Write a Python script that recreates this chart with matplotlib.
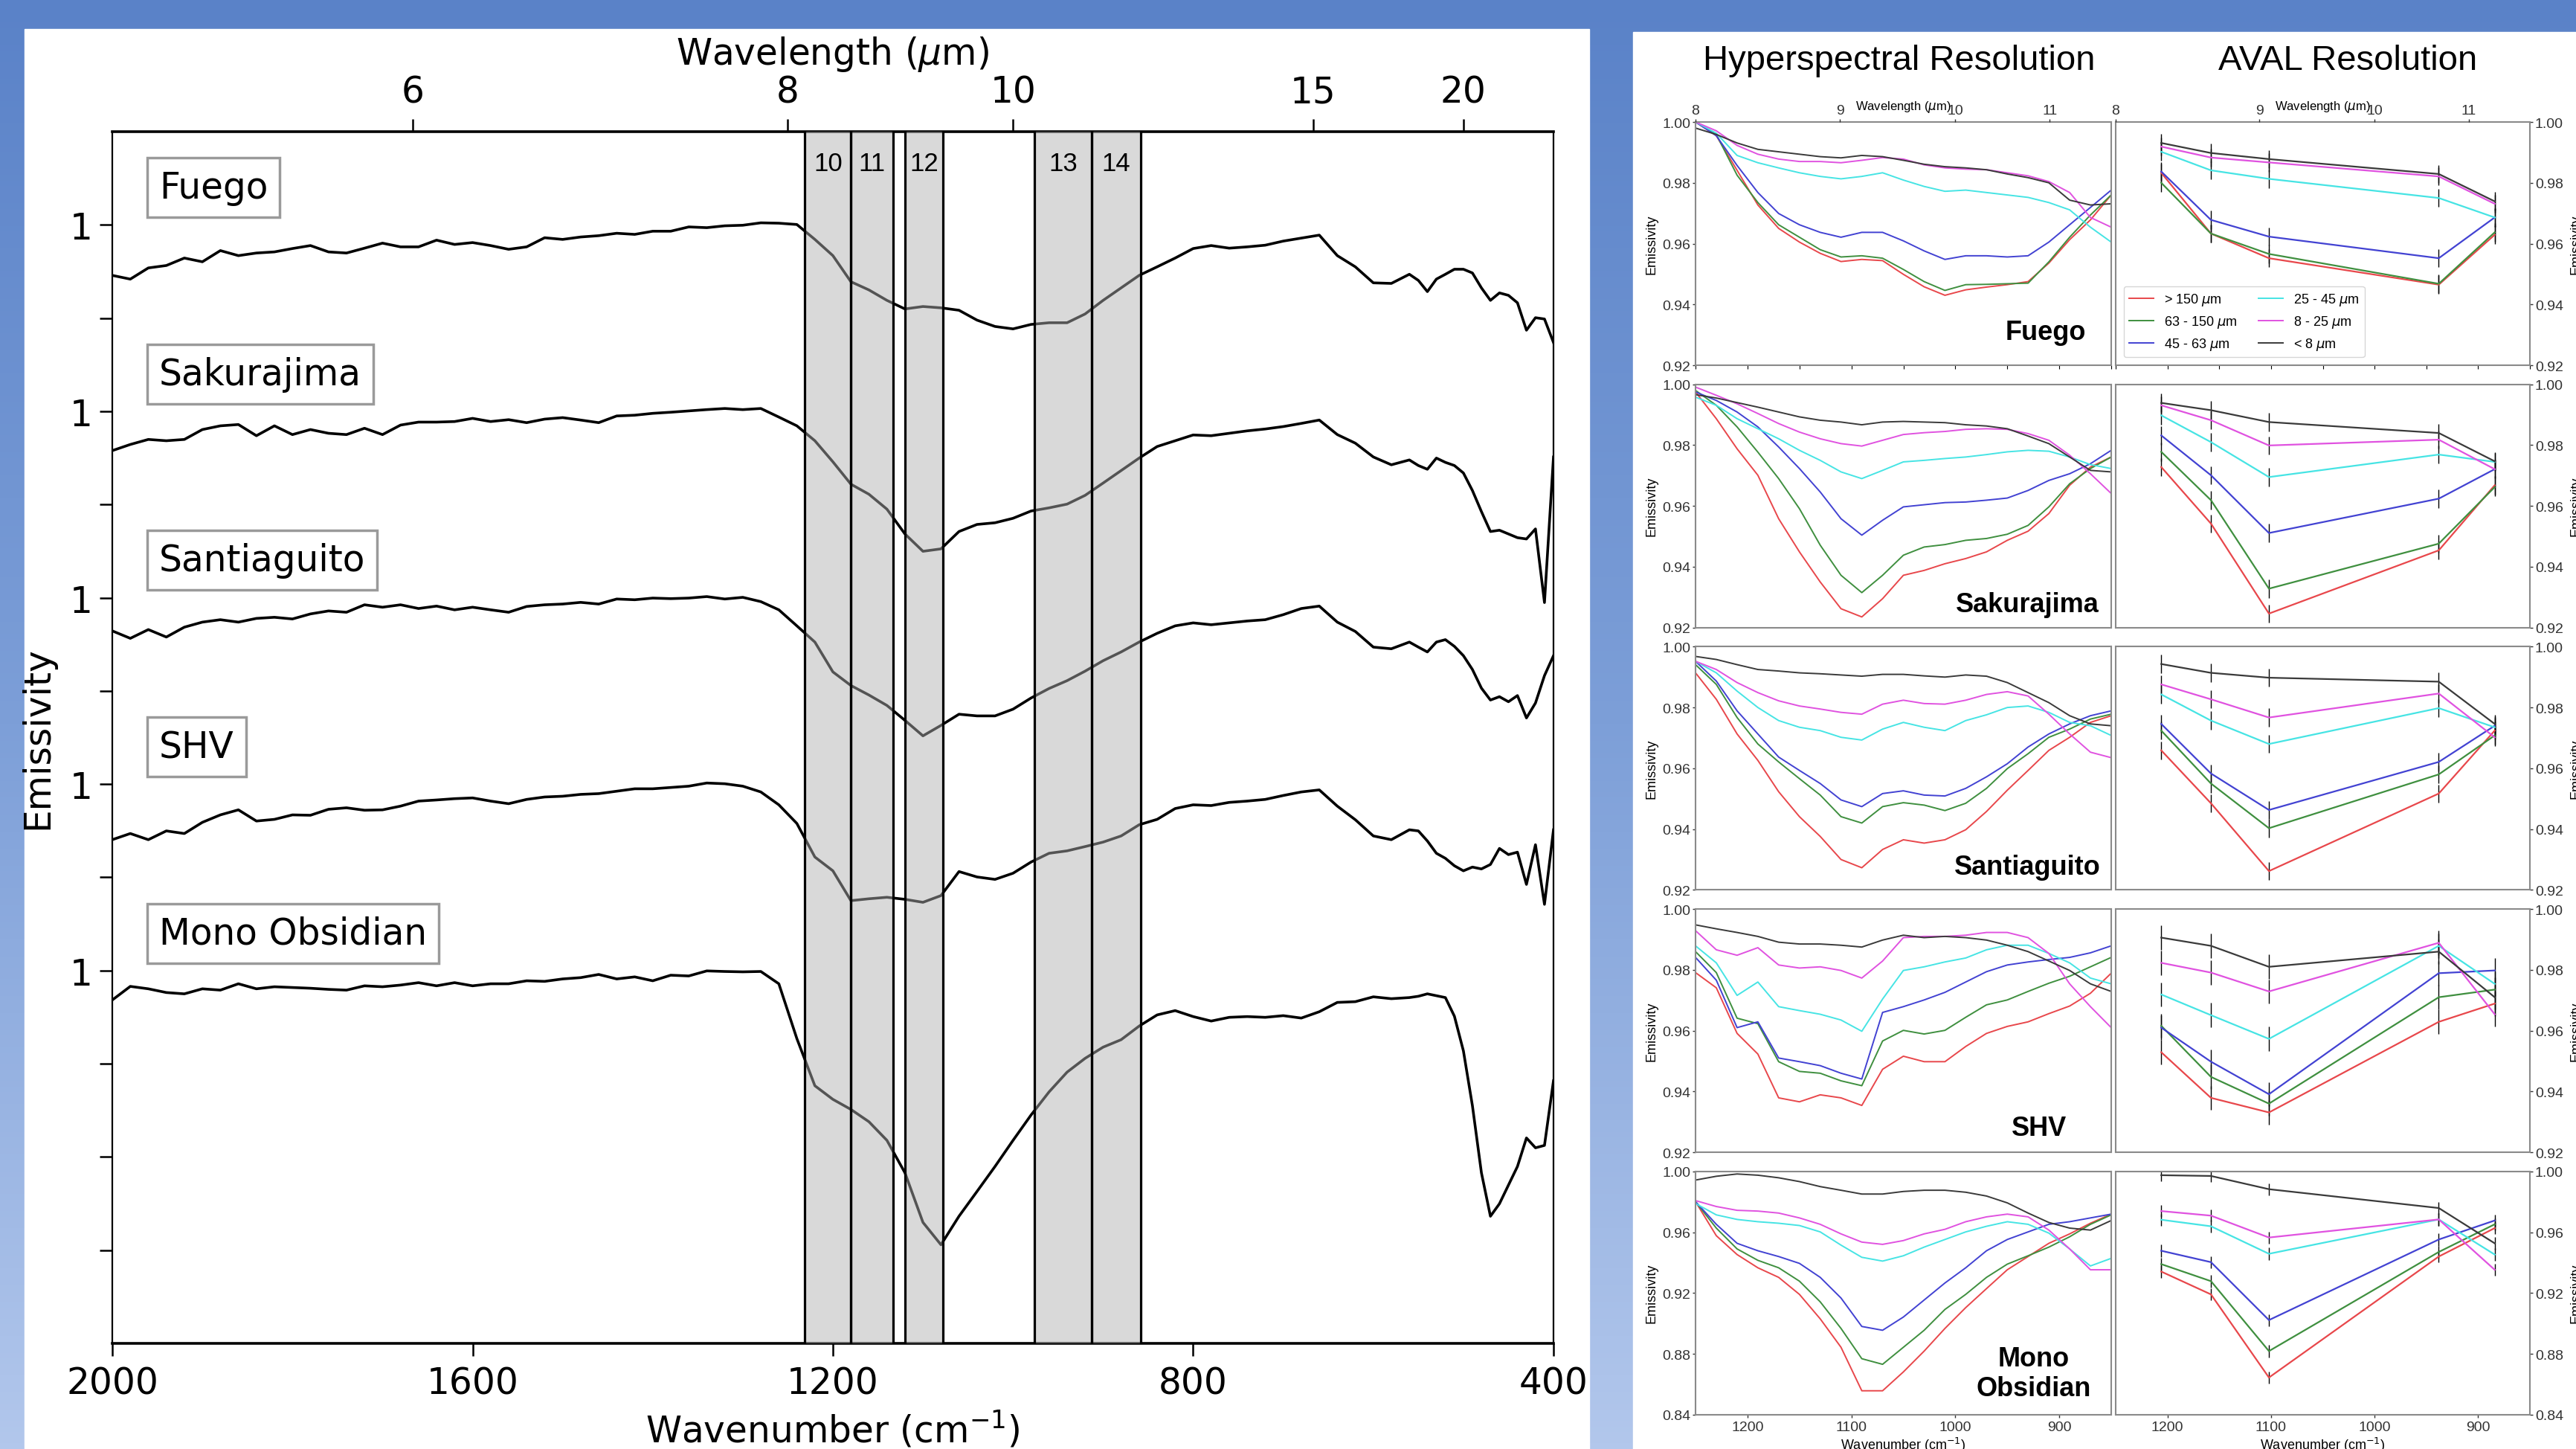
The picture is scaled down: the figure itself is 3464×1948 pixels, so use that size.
"""
Two-panel slide: stacked lab emissivity spectra of five volcanic samples with
ASTER TIR bands shaded (left), and particle-size emissivity at hyperspectral
vs AVAL resolution (right).  Saves out.png.
"""
import numpy as np
import matplotlib.pyplot as plt
from matplotlib.colors import LinearSegmentedColormap
from matplotlib.patches import Rectangle
import matplotlib.transforms as mtransforms

W, H = 3464, 1949

# ---------------- left panel: stacked spectra ----------------
WAVENUMBER = list(range(2000, 559, -20)) + list(range(550, 399, -10))

FUEGO = [0.9729, 0.9709, 0.9769, 0.9782, 0.9822, 0.9802, 0.9862, 0.9835, 0.9849, 0.9855,
         0.9873, 0.9889, 0.9855, 0.9849, 0.9875, 0.9902, 0.9882, 0.9882, 0.9918, 0.9895,
         0.9905, 0.9889, 0.9869, 0.9882, 0.9931, 0.9922, 0.9935, 0.9942, 0.9955, 0.9949,
         0.9966, 0.9966, 0.9989, 0.9985, 0.9995, 0.9998, 1.0011, 1.0009, 1.0002,
         0.9922, 0.9835, 0.9695, 0.9651, 0.9595, 0.9549, 0.9562, 0.9555, 0.9542, 0.9489,
         0.9455, 0.9442, 0.9466, 0.9475, 0.9475, 0.9522, 0.9595, 0.9662, 0.9729, 0.9775,
         0.9822, 0.9873, 0.9889, 0.9875, 0.9882, 0.9891, 0.9913, 0.9929, 0.9945, 0.9835,
         0.9775, 0.9689, 0.9686, 0.9735,
         0.9702, 0.9642, 0.9709, 0.9735, 0.9762, 0.9762, 0.9742, 0.9662, 0.9595, 0.9635,
         0.9622, 0.9582, 0.9435, 0.9502, 0.9495, 0.9369]
SAKURAJIMA = [0.9789, 0.9822, 0.9849, 0.9842, 0.9849, 0.9902, 0.9922, 0.9929, 0.9869, 0.9922,
              0.9875, 0.9902, 0.9882, 0.9875, 0.9909, 0.9875, 0.9926, 0.9942, 0.9942, 0.9945,
              0.9962, 0.9945, 0.9955, 0.9939, 0.9958, 0.9966, 0.9953, 0.9939, 0.9975, 0.9979,
              0.9989, 0.9995, 1.0002, 1.0009, 1.0015, 1.0009, 1.0015, 0.9969, 0.9922,
              0.9842, 0.9729, 0.9609, 0.9555, 0.9475, 0.9342, 0.9249, 0.9262, 0.9355, 0.9393,
              0.9402, 0.9426, 0.9465, 0.9482, 0.9502, 0.9549, 0.9615, 0.9682, 0.9749, 0.9811,
              0.9842, 0.9873, 0.9869, 0.9882, 0.9895, 0.9905, 0.9918, 0.9935, 0.9953, 0.9875,
              0.9829, 0.9755, 0.9713, 0.9739,
              0.9709, 0.9689, 0.9749, 0.9726, 0.9709, 0.9669, 0.9575, 0.9462, 0.9355, 0.9362,
              0.9342, 0.9322, 0.9315, 0.9369, 0.8974, 0.9755]
SANTIAGUITO = [0.9822, 0.9782, 0.9829, 0.9789, 0.9842, 0.9869, 0.9882, 0.9869, 0.9889, 0.9895,
               0.9886, 0.9913, 0.9929, 0.9922, 0.9962, 0.9949, 0.9962, 0.9942, 0.9955, 0.9935,
               0.9949, 0.9935, 0.9922, 0.9953, 0.9962, 0.9966, 0.9975, 0.9966, 0.9993, 0.9989,
               0.9998, 0.9995, 0.9998, 1.0006, 0.9993, 1.0002, 0.9979, 0.9935, 0.9849,
               0.9762, 0.9602, 0.9529, 0.9478, 0.9422, 0.9342, 0.9259, 0.9315, 0.9375, 0.9366,
               0.9366, 0.9402, 0.9462, 0.9513, 0.9555, 0.9606, 0.9662, 0.9709, 0.9762, 0.9809,
               0.9849, 0.9865, 0.9855, 0.9865, 0.9875, 0.9882, 0.9909, 0.9942, 0.9955, 0.9869,
               0.9819, 0.9735, 0.9726, 0.9762,
               0.9735, 0.9709, 0.9762, 0.9775, 0.9739, 0.9689, 0.9615, 0.9515, 0.9451, 0.9469,
               0.9442, 0.9475, 0.9355, 0.9435, 0.9582, 0.9689]
SHV = [0.9702, 0.9735, 0.9702, 0.9749, 0.9735, 0.9795, 0.9835, 0.9862, 0.9802, 0.9811,
       0.9835, 0.9833, 0.9865, 0.9873, 0.9860, 0.9862, 0.9882, 0.9909, 0.9915, 0.9922,
       0.9926, 0.9909, 0.9895, 0.9918, 0.9931, 0.9935, 0.9945, 0.9949, 0.9962, 0.9975,
       0.9975, 0.9982, 0.9989, 1.0006, 1.0002, 0.9989, 0.9958, 0.9889, 0.9789,
       0.9609, 0.9535, 0.9375, 0.9385, 0.9393, 0.9382, 0.9366, 0.9402, 0.9531, 0.9502,
       0.9489, 0.9522, 0.9582, 0.9629, 0.9642, 0.9665, 0.9689, 0.9722, 0.9782, 0.9811,
       0.9869, 0.9889, 0.9885, 0.9902, 0.9909, 0.9918, 0.9939, 0.9958, 0.9969, 0.9882,
       0.9809, 0.9722, 0.9702, 0.9755,
       0.9749, 0.9695, 0.9629, 0.9602, 0.9562, 0.9535, 0.9555, 0.9545, 0.9569, 0.9655,
       0.9622, 0.9635, 0.9462, 0.9675, 0.9355, 0.9755]
MONO_OBSIDIAN = [0.9842, 0.9915, 0.9902, 0.9882, 0.9875, 0.9902, 0.9895, 0.9929, 0.9902, 0.9913,
                 0.9909, 0.9905, 0.9899, 0.9895, 0.9918, 0.9913, 0.9922, 0.9935, 0.9918, 0.9935,
                 0.9918, 0.9929, 0.9929, 0.9945, 0.9942, 0.9955, 0.9962, 0.9979, 0.9955, 0.9966,
                 0.9945, 0.9975, 0.9971, 0.9998, 0.9995, 0.9993, 0.9995, 0.9929, 0.9635,
                 0.9382, 0.9309, 0.9255, 0.9189, 0.9089, 0.8915, 0.8649, 0.8529, 0.8682, 0.8815,
                 0.8949, 0.9089, 0.9225, 0.9349, 0.9455, 0.9529, 0.9589, 0.9629, 0.9702, 0.9762,
                 0.9785, 0.9753, 0.9729, 0.9749, 0.9753, 0.9749, 0.9758, 0.9745, 0.9779, 0.9829,
                 0.9833, 0.9859, 0.9849, 0.9855,
                 0.9862, 0.9875, 0.9865, 0.9855, 0.9755, 0.9569, 0.9275, 0.8915, 0.8682, 0.8749,
                 0.8849, 0.8949, 0.9102, 0.9049, 0.9062, 0.9409]

SAMPLE_NAMES = ["Fuego", "Sakurajima", "Santiaguito", "SHV", "Mono Obsidian"]
SAMPLE_SPECTRA = [FUEGO, SAKURAJIMA, SANTIAGUITO, SHV, MONO_OBSIDIAN]
SAMPLE_OFFSETS = [0.4, 0.3, 0.2, 0.1, 0.0]

ASTER_BANDS = [(1231, 1180), (1180, 1133), (1120, 1078), (976, 913), (913, 858)]
BAND_NAMES = ["10", "11", "12", "13", "14"]
WAVELENGTH_TICKS = [6, 8, 10, 15, 20]
EMIS_TICKS = [0.85, 0.9, 0.95, 1.0, 1.05, 1.1, 1.15, 1.2, 1.25, 1.3, 1.35, 1.4]
EMIS_TICK_LABELS = ["", "", "", "1", "", "1", "", "1", "", "1", "", "1"]

# ---------------- right panel: particle size fractions ----------------
HS_WAVENUMBER = list(range(1250, 849, -20))
AVAL_WAVENUMBER = [1206, 1158, 1102, 938, 884]
SIZE_LABELS = [r"> 150 $\mu$m", r"63 - 150 $\mu$m", r"45 - 63 $\mu$m",
               r"25 - 45 $\mu$m", r"8 - 25 $\mu$m", r"< 8 $\mu$m"]
SIZE_COLORS = ["#e8474b", "#3f8f3f", "#4242d2", "#46e4e4", "#e052e0", "#3a3a3a"]

HS_FUEGO = [
    [1.000, 0.9955, 0.9841, 0.9727, 0.9650, 0.9605, 0.9568, 0.9541, 0.9548, 0.9544, 0.9499,
     0.9458, 0.9430, 0.9448, 0.9457, 0.9465, 0.9475, 0.9536, 0.9613, 0.9678, 0.9760],
    [1.000, 0.9959, 0.9825, 0.9735, 0.9662, 0.9621, 0.9580, 0.9556, 0.9560, 0.9552, 0.9515,
     0.9475, 0.9446, 0.9465, 0.9466, 0.9468, 0.9470, 0.9540, 0.9621, 0.9694, 0.9760],
    [1.000, 0.9955, 0.9857, 0.9768, 0.9699, 0.9662, 0.9637, 0.9621, 0.9637, 0.9637, 0.9609,
     0.9576, 0.9548, 0.9560, 0.9560, 0.9556, 0.9560, 0.9605, 0.9662, 0.9719, 0.9776],
    [1.000, 0.9963, 0.9890, 0.9866, 0.9849, 0.9833, 0.9821, 0.9813, 0.9821, 0.9833, 0.9809,
     0.9788, 0.9772, 0.9776, 0.9768, 0.9760, 0.9752, 0.9735, 0.9711, 0.9654, 0.9605],
    [1.000, 0.9971, 0.9923, 0.9894, 0.9878, 0.9870, 0.9870, 0.9866, 0.9874, 0.9883, 0.9878,
     0.9859, 0.9849, 0.9845, 0.9843, 0.9833, 0.9823, 0.9804, 0.9768, 0.9686, 0.9654],
    [0.9980, 0.9959, 0.9931, 0.9910, 0.9902, 0.9894, 0.9886, 0.9882, 0.9890, 0.9886, 0.9874,
     0.9861, 0.9853, 0.9849, 0.9843, 0.9829, 0.9817, 0.9800, 0.9743, 0.9727, 0.9731],
]
HS_SAKURAJIMA = [
    [0.9975, 0.9887, 0.9788, 0.9701, 0.9558, 0.9449, 0.9350, 0.9262, 0.9235, 0.9295, 0.9372,
     0.9388, 0.9410, 0.9427, 0.9449, 0.9487, 0.9517, 0.9575, 0.9668, 0.9728, 0.9761],
    [0.9980, 0.9931, 0.9860, 0.9777, 0.9690, 0.9591, 0.9471, 0.9372, 0.9315, 0.9372, 0.9438,
     0.9465, 0.9473, 0.9487, 0.9493, 0.9507, 0.9536, 0.9597, 0.9673, 0.9723, 0.9761],
    [0.9975, 0.9947, 0.9909, 0.9860, 0.9794, 0.9723, 0.9646, 0.9558, 0.9504, 0.9553, 0.9597,
     0.9604, 0.9611, 0.9613, 0.9619, 0.9626, 0.9651, 0.9684, 0.9706, 0.9739, 0.9783],
    [0.9958, 0.9931, 0.9887, 0.9854, 0.9821, 0.9783, 0.9750, 0.9712, 0.9690, 0.9717, 0.9745,
     0.9750, 0.9756, 0.9761, 0.9769, 0.9778, 0.9783, 0.9780, 0.9761, 0.9736, 0.9723],
    [0.9991, 0.9964, 0.9936, 0.9904, 0.9871, 0.9843, 0.9821, 0.9805, 0.9797, 0.9816, 0.9835,
     0.9841, 0.9845, 0.9852, 0.9854, 0.9852, 0.9838, 0.9816, 0.9767, 0.9706, 0.9641],
    [0.9966, 0.9955, 0.9940, 0.9925, 0.9909, 0.9893, 0.9882, 0.9876, 0.9867, 0.9876, 0.9878,
     0.9876, 0.9874, 0.9867, 0.9863, 0.9854, 0.9830, 0.9805, 0.9761, 0.9717, 0.9712],
]
HS_SANTIAGUITO = [
    [0.9914, 0.9827, 0.9713, 0.9626, 0.9523, 0.9441, 0.9376, 0.9300, 0.9273, 0.9333, 0.9365,
     0.9354, 0.9365, 0.9398, 0.9458, 0.9528, 0.9593, 0.9659, 0.9702, 0.9751, 0.9773],
    [0.9941, 0.9876, 0.9767, 0.9680, 0.9621, 0.9566, 0.9512, 0.9441, 0.9420, 0.9474, 0.9487,
     0.9479, 0.9461, 0.9485, 0.9534, 0.9599, 0.9648, 0.9702, 0.9729, 0.9762, 0.9778],
    [0.9952, 0.9887, 0.9789, 0.9713, 0.9637, 0.9593, 0.9550, 0.9496, 0.9474, 0.9517, 0.9526,
     0.9512, 0.9509, 0.9534, 0.9572, 0.9615, 0.9670, 0.9713, 0.9746, 0.9773, 0.9789],
    [0.9952, 0.9914, 0.9854, 0.9800, 0.9757, 0.9735, 0.9724, 0.9702, 0.9693, 0.9729, 0.9751,
     0.9735, 0.9724, 0.9757, 0.9776, 0.9800, 0.9805, 0.9784, 0.9751, 0.9740, 0.9708],
    [0.9952, 0.9925, 0.9882, 0.9849, 0.9822, 0.9805, 0.9795, 0.9784, 0.9778, 0.9811, 0.9824,
     0.9813, 0.9811, 0.9824, 0.9843, 0.9852, 0.9838, 0.9778, 0.9713, 0.9653, 0.9635],
    [0.9968, 0.9958, 0.9941, 0.9925, 0.9920, 0.9914, 0.9911, 0.9907, 0.9903, 0.9909, 0.9909,
     0.9904, 0.9900, 0.9907, 0.9903, 0.9882, 0.9849, 0.9816, 0.9773, 0.9746, 0.9740],
]
HS_SHV = [
    [0.9791, 0.9741, 0.9591, 0.9523, 0.9379, 0.9366, 0.9389, 0.9379, 0.9354, 0.9473, 0.9516,
     0.9498, 0.9498, 0.9548, 0.9591, 0.9614, 0.9629, 0.9656, 0.9681, 0.9723, 0.9789],
    [0.9860, 0.9791, 0.9641, 0.9623, 0.9498, 0.9466, 0.9460, 0.9435, 0.9419, 0.9566, 0.9601,
     0.9589, 0.9601, 0.9644, 0.9685, 0.9701, 0.9729, 0.9756, 0.9779, 0.9810, 0.9841],
    [0.9841, 0.9766, 0.9610, 0.9629, 0.9510, 0.9498, 0.9485, 0.9460, 0.9441, 0.9660, 0.9679,
     0.9701, 0.9726, 0.9760, 0.9794, 0.9816, 0.9826, 0.9834, 0.9841, 0.9856, 0.9879],
    [0.9879, 0.9823, 0.9716, 0.9760, 0.9679, 0.9666, 0.9654, 0.9635, 0.9598, 0.9704, 0.9798,
     0.9810, 0.9826, 0.9839, 0.9866, 0.9881, 0.9881, 0.9854, 0.9823, 0.9773, 0.9754],
    [0.9929, 0.9866, 0.9848, 0.9873, 0.9816, 0.9806, 0.9810, 0.9798, 0.9773, 0.9829, 0.9906,
     0.9910, 0.9910, 0.9914, 0.9923, 0.9923, 0.9906, 0.9854, 0.9754, 0.9679, 0.9610],
    [0.9948, 0.9935, 0.9923, 0.9910, 0.9891, 0.9885, 0.9885, 0.9881, 0.9875, 0.9898, 0.9914,
     0.9906, 0.9910, 0.9906, 0.9898, 0.9881, 0.9860, 0.9829, 0.9798, 0.9754, 0.9729],
]
HS_MONO = [
    [0.9801, 0.9577, 0.9453, 0.9366, 0.9303, 0.9191, 0.9030, 0.8843, 0.8557, 0.8557, 0.8681,
     0.8818, 0.8967, 0.9104, 0.9229, 0.9353, 0.9440, 0.9527, 0.9589, 0.9659, 0.9719],
    [0.9801, 0.9627, 0.9490, 0.9415, 0.9366, 0.9278, 0.9142, 0.8967, 0.8768, 0.8731, 0.8843,
     0.8955, 0.9092, 0.9191, 0.9303, 0.9390, 0.9445, 0.9502, 0.9570, 0.9652, 0.9714],
    [0.9801, 0.9652, 0.9527, 0.9478, 0.9440, 0.9395, 0.9303, 0.9167, 0.8980, 0.8955, 0.9042,
     0.9154, 0.9266, 0.9366, 0.9478, 0.9552, 0.9602, 0.9652, 0.9669, 0.9694, 0.9719],
    [0.9789, 0.9714, 0.9684, 0.9669, 0.9659, 0.9644, 0.9602, 0.9515, 0.9435, 0.9410, 0.9445,
     0.9502, 0.9552, 0.9602, 0.9639, 0.9669, 0.9652, 0.9594, 0.9490, 0.9378, 0.9428],
    [0.9808, 0.9769, 0.9744, 0.9739, 0.9726, 0.9694, 0.9652, 0.9589, 0.9535, 0.9520, 0.9545,
     0.9589, 0.9619, 0.9669, 0.9701, 0.9719, 0.9701, 0.9614, 0.9490, 0.9353, 0.9353],
    [0.9943, 0.9968, 0.9983, 0.9975, 0.9958, 0.9933, 0.9900, 0.9876, 0.9851, 0.9851, 0.9868,
     0.9876, 0.9876, 0.9863, 0.9838, 0.9793, 0.9726, 0.9664, 0.9627, 0.9614, 0.9677],
]

AVAL_FUEGO = [[0.9833, 0.9633, 0.9552, 0.9465, 0.9629], [0.9800, 0.9633, 0.9566, 0.9468, 0.9637],
              [0.9837, 0.9678, 0.9623, 0.9552, 0.9686], [0.9902, 0.9841, 0.9813, 0.9750, 0.9686],
              [0.9919, 0.9883, 0.9867, 0.9821, 0.9731], [0.9931, 0.9898, 0.9878, 0.9829, 0.9739]]
AVAL_SAKURAJIMA = [[0.9728, 0.9542, 0.9246, 0.9454, 0.9668], [0.9778, 0.9619, 0.9328, 0.9476, 0.9662],
                   [0.9832, 0.9701, 0.9511, 0.9624, 0.9721], [0.9898, 0.9810, 0.9695, 0.9769, 0.9745],
                   [0.9931, 0.9882, 0.9799, 0.9818, 0.9721], [0.9939, 0.9915, 0.9876, 0.9840, 0.9747]]
AVAL_SANTIAGUITO = [[0.9659, 0.9485, 0.9262, 0.9517, 0.9724], [0.9724, 0.9550, 0.9403, 0.9580, 0.9708],
                    [0.9746, 0.9583, 0.9463, 0.9621, 0.9740], [0.9843, 0.9757, 0.9680, 0.9798, 0.9735],
                    [0.9876, 0.9827, 0.9767, 0.9846, 0.9702], [0.9943, 0.9914, 0.9898, 0.9885, 0.9746]]
AVAL_SHV = [[0.9529, 0.9379, 0.9331, 0.9629, 0.9689], [0.9616, 0.9448, 0.9360, 0.9710, 0.9735],
            [0.9610, 0.9498, 0.9391, 0.9789, 0.9798], [0.9719, 0.9651, 0.9573, 0.9879, 0.9754],
            [0.9823, 0.9791, 0.9729, 0.9889, 0.9654], [0.9906, 0.9879, 0.9810, 0.9860, 0.9710]]
AVAL_MONO = [[0.9341, 0.9191, 0.8644, 0.9440, 0.9627], [0.9390, 0.9278, 0.8818, 0.9470, 0.9652],
             [0.9478, 0.9403, 0.9022, 0.9552, 0.9677], [0.9682, 0.9639, 0.9458, 0.9684, 0.9453],
             [0.9739, 0.9709, 0.9565, 0.9684, 0.9353], [0.9975, 0.9970, 0.9883, 0.9759, 0.9527]]
AVAL_ERR = [0.003, 0.003, 0.003, 0.004, 0.004]

ROW_NAMES = ["Fuego", "Sakurajima", "Santiaguito", "SHV", "Mono\nObsidian"]
HS_ROWS = [HS_FUEGO, HS_SAKURAJIMA, HS_SANTIAGUITO, HS_SHV, HS_MONO]
AVAL_ROWS = [AVAL_FUEGO, AVAL_SAKURAJIMA, AVAL_SANTIAGUITO, AVAL_SHV, AVAL_MONO]
ROW_YTICKS = [[0.92, 0.94, 0.96, 0.98, 1.00]] * 4 + [[0.84, 0.88, 0.92, 0.96, 1.00]]
HS_WL_TICKS = [8, 9, 10, 11]
HS_WN_TICKS = [1200, 1100, 1000, 900]

RFONT = "Liberation Sans"
plt.rcParams["font.family"] = "DejaVu Sans"

fig = plt.figure(figsize=(W / 100, H / 100), dpi=100)


def px_axes(x0, y0, x1, y1, **kw):
    return fig.add_axes([x0 / W, 1 - y1 / H, (x1 - x0) / W, (y1 - y0) / H], **kw)


# slide background
bg = fig.add_axes([0, 0, 1, 1])
slide = LinearSegmentedColormap.from_list("slide", ["#5a82c8", "#7d9fd8", "#b2c7ec"])
bg.imshow(np.linspace(0, 1, 256)[:, None], cmap=slide, aspect="auto", extent=(0, 1, 0, 1))
bg.add_patch(Rectangle((33 / W, 0), (2137 - 33) / W, 1 - 40 / H, color="white"))
bg.add_patch(Rectangle((2196 / W, 0), 1 - 2196 / W, 1 - 44 / H, color="white"))
bg.set_xlim(0, 1); bg.set_ylim(0, 1)
bg.axis("off")

# ---------------- left panel ----------------
ax = px_axes(151, 178, 2089, 1807)
for spec, off in zip(SAMPLE_SPECTRA, SAMPLE_OFFSETS):
    ax.plot(WAVENUMBER, np.array(spec) + off, color="black", lw=2.6, zorder=2)

for (hi, lo), name in zip(ASTER_BANDS, BAND_NAMES):
    ax.axvspan(lo, hi, color="#b0b0b0", alpha=0.48, lw=0, zorder=3)
    ax.axvline(lo, color="black", lw=2.3, zorder=4)
    ax.axvline(hi, color="black", lw=2.3, zorder=4)
    ax.text((lo + hi) / 2, 1.433, name, ha="center", va="center",
            fontsize=25, family=RFONT, zorder=5)

blend = mtransforms.blended_transform_factory(ax.transAxes, ax.transData)
for name, off in zip(SAMPLE_NAMES, SAMPLE_OFFSETS):
    ax.text(0.0325, off + 1.02, name, transform=blend, fontsize=35, ha="left", va="center",
            zorder=6, bbox=dict(boxstyle="square,pad=0.33", fc="white", ec="#9a9a9a", lw=2.5))

ax.set_xlim(2000, 400)
ax.set_ylim(0.8, 1.45)
ax.set_xticks([2000, 1600, 1200, 800, 400])
ax.set_yticks(EMIS_TICKS, labels=EMIS_TICK_LABELS)
ax.tick_params(direction="out", length=12, width=1.8, labelsize=35, pad=9)
ax.tick_params(axis="y", pad=7)
ax.set_xlabel("Wavenumber (cm$^{-1}$)", fontsize=35, labelpad=8)
ax.set_ylabel("Emissivity", fontsize=35, labelpad=14)
for side, sp in ax.spines.items():
    sp.set_linewidth(2.6 if side in ("top", "bottom") else 1.6)

top = ax.twiny()
top.set_xlim(2000, 400)
top.set_xticks([1e4 / w for w in WAVELENGTH_TICKS], labels=[str(w) for w in WAVELENGTH_TICKS])
top.tick_params(direction="out", length=12, width=1.8, labelsize=35, pad=9)
top.set_xlabel("Wavelength ($\\mu$m)", fontsize=35, labelpad=10)
for sp in top.spines.values():
    sp.set_visible(False)

# ---------------- right panel ----------------
fig.text(2554 / W, 1 - 82 / H, "Hyperspectral Resolution", fontsize=34, family=RFONT,
         ha="center", va="center")
fig.text(3157 / W, 1 - 82 / H, "AVAL Resolution", fontsize=34, family=RFONT,
         ha="center", va="center")

ROW_TOP = 165
ROW_H = 327
ROW_PITCH = 352.7
NAME_POS = [(0.842, 0.136), (0.798, 0.095), (0.798, 0.094), (0.826, 0.10), (0.814, 0.169)]

for r in range(5):
    y0 = ROW_TOP + r * ROW_PITCH
    axh = px_axes(2280, y0, 2839, y0 + ROW_H)
    axa = px_axes(2845, y0, 3402, y0 + ROW_H)
    lines = []
    for k in range(6):
        ln, = axh.plot(HS_WAVENUMBER, HS_ROWS[r][k], color=SIZE_COLORS[k], lw=1.4,
                       label=SIZE_LABELS[k])
        lines.append(ln)
        axa.errorbar(AVAL_WAVENUMBER, AVAL_ROWS[r][k], yerr=AVAL_ERR[r], color=SIZE_COLORS[k],
                     lw=1.6, ecolor="black", elinewidth=1.0, capsize=0)
    yt = ROW_YTICKS[r]
    for a in (axh, axa):
        a.set_xlim(1250, 850)
        a.set_ylim(yt[0], yt[-1])
        a.set_yticks(yt, labels=[f"{v:.2f}" for v in yt], fontsize=14, family=RFONT)
        a.tick_params(axis="y", length=3, width=1, pad=2, colors="#333333")
        for sp in a.spines.values():
            sp.set_color("#8a8a8a")
            sp.set_linewidth(1.5)
        if r == 4:
            a.set_xticks(HS_WN_TICKS, labels=[str(v) for v in HS_WN_TICKS],
                         fontsize=14, family=RFONT)
            a.tick_params(axis="x", length=3, width=1, pad=3, colors="#333333")
            a.set_xlabel("Wavenumber (cm$^{-1}$)", fontsize=13, family=RFONT, labelpad=2)
        else:
            a.tick_params(axis="x", bottom=False, labelbottom=False)
        if r == 0:
            tw = a.twiny()
            tw.set_xlim(1250, 850)
            tw.set_xticks([1e4 / w for w in HS_WL_TICKS],
                          labels=[str(w) for w in HS_WL_TICKS], fontsize=14, family=RFONT)
            tw.tick_params(axis="x", length=3, width=1, pad=2, colors="#333333")
            tw.set_xlabel("Wavelength ($\\mu$m)", fontsize=12, family=RFONT, labelpad=-5)
            for sp in tw.spines.values():
                sp.set_visible(False)
    axh.set_ylabel("Emissivity", fontsize=13, family=RFONT, labelpad=4)
    axa.yaxis.tick_right()
    axa.yaxis.set_label_position("right")
    # the reference slide crops this label at its right edge
    axa.set_ylabel("Emissivity", fontsize=13, family=RFONT, labelpad=6)
    nx, ny = NAME_POS[r]
    axh.text(nx, ny, ROW_NAMES[r], transform=axh.transAxes, ha="center", va="center",
             fontsize=26, fontweight="bold", family=RFONT)
    if r == 0:
        axa.legend(handles=lines, loc="lower left", ncol=2, prop={"family": RFONT, "size": 13},
                   handlelength=1.8, columnspacing=1.6, borderaxespad=0.6, edgecolor="#cccccc")

fig.savefig("out.png", dpi=100)
